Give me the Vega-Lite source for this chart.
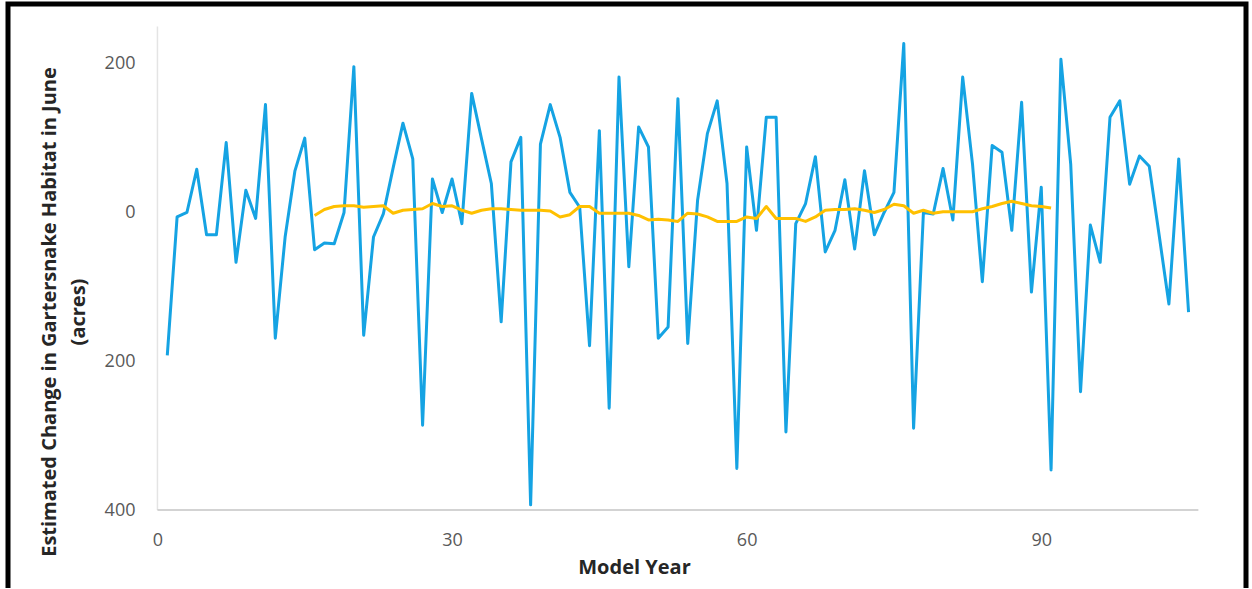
{
  "$schema": "https://vega.github.io/schema/vega-lite/v6.json",
  "width": 1238,
  "height": 590,
  "autosize": {"type": "none"},
  "padding": {"left": 8, "top": 4, "right": 6, "bottom": -6},
  "background": "white",
  "config": {"view": {"stroke": "black", "strokeWidth": 5}, "font": "Open Sans"},
  "datasets": {
    "blue": [
      {"year": 1, "value": -192}, {"year": 2, "value": -6}, {"year": 3, "value": 0}, {"year": 4, "value": 58},
      {"year": 5, "value": -30}, {"year": 6, "value": -30}, {"year": 7, "value": 94}, {"year": 8, "value": -67},
      {"year": 9, "value": 30}, {"year": 10, "value": -8}, {"year": 11, "value": 145}, {"year": 12, "value": -169},
      {"year": 13, "value": -33}, {"year": 14, "value": 56}, {"year": 15, "value": 100}, {"year": 16, "value": -50},
      {"year": 17, "value": -41}, {"year": 18, "value": -42}, {"year": 19, "value": 0}, {"year": 20, "value": 196},
      {"year": 21, "value": -165}, {"year": 22, "value": -33}, {"year": 23, "value": -2}, {"year": 24, "value": 60},
      {"year": 25, "value": 120}, {"year": 26, "value": 72}, {"year": 27, "value": -286}, {"year": 28, "value": 45},
      {"year": 29, "value": 0}, {"year": 30, "value": 45}, {"year": 31, "value": -15}, {"year": 32, "value": 160},
      {"year": 33, "value": 99}, {"year": 34, "value": 39}, {"year": 35, "value": -147}, {"year": 36, "value": 68},
      {"year": 37, "value": 101}, {"year": 38, "value": -393}, {"year": 39, "value": 92}, {"year": 40, "value": 145},
      {"year": 41, "value": 101}, {"year": 42, "value": 27}, {"year": 43, "value": 7}, {"year": 44, "value": -179},
      {"year": 45, "value": 110}, {"year": 46, "value": -263}, {"year": 47, "value": 182}, {"year": 48, "value": -73},
      {"year": 49, "value": 115}, {"year": 50, "value": 88}, {"year": 51, "value": -169}, {"year": 52, "value": -154},
      {"year": 53, "value": 153}, {"year": 54, "value": -176}, {"year": 55, "value": 16}, {"year": 56, "value": 106},
      {"year": 57, "value": 150}, {"year": 58, "value": 39}, {"year": 59, "value": -344}, {"year": 60, "value": 88},
      {"year": 61, "value": -24}, {"year": 62, "value": 128}, {"year": 63, "value": 128}, {"year": 64, "value": -295},
      {"year": 65, "value": -15}, {"year": 66, "value": 12}, {"year": 67, "value": 75}, {"year": 68, "value": -53},
      {"year": 69, "value": -24}, {"year": 70, "value": 44}, {"year": 71, "value": -49}, {"year": 72, "value": 56},
      {"year": 73, "value": -30}, {"year": 74, "value": 0}, {"year": 75, "value": 27}, {"year": 76, "value": 227},
      {"year": 77, "value": -290}, {"year": 78, "value": 0}, {"year": 79, "value": -2}, {"year": 80, "value": 59},
      {"year": 81, "value": -10}, {"year": 82, "value": 182}, {"year": 83, "value": 65}, {"year": 84, "value": -93},
      {"year": 85, "value": 90}, {"year": 86, "value": 81}, {"year": 87, "value": -24}, {"year": 88, "value": 148},
      {"year": 89, "value": -107}, {"year": 90, "value": 34}, {"year": 91, "value": -346}, {"year": 92, "value": 206},
      {"year": 93, "value": 65}, {"year": 94, "value": -241}, {"year": 95, "value": -17}, {"year": 96, "value": -67},
      {"year": 97, "value": 128}, {"year": 98, "value": 150}, {"year": 99, "value": 38}, {"year": 100, "value": 76},
      {"year": 101, "value": 62}, {"year": 102, "value": -30}, {"year": 103, "value": -123}, {"year": 104, "value": 72},
      {"year": 105, "value": -134}
    ],
    "orange": [
      {"year": 16, "value": -4}, {"year": 17, "value": 4}, {"year": 18, "value": 8}, {"year": 19, "value": 9},
      {"year": 20, "value": 9}, {"year": 21, "value": 7}, {"year": 22, "value": 8}, {"year": 23, "value": 9},
      {"year": 24, "value": -1}, {"year": 25, "value": 3}, {"year": 26, "value": 4}, {"year": 27, "value": 5},
      {"year": 28, "value": 12}, {"year": 29, "value": 8}, {"year": 30, "value": 9}, {"year": 31, "value": 3},
      {"year": 32, "value": -1}, {"year": 33, "value": 3}, {"year": 34, "value": 5}, {"year": 35, "value": 5},
      {"year": 36, "value": 4}, {"year": 37, "value": 3}, {"year": 38, "value": 3}, {"year": 39, "value": 3},
      {"year": 40, "value": 2}, {"year": 41, "value": -6}, {"year": 42, "value": -3}, {"year": 43, "value": 8},
      {"year": 44, "value": 8}, {"year": 45, "value": -1}, {"year": 46, "value": -1}, {"year": 47, "value": -1},
      {"year": 48, "value": -1}, {"year": 49, "value": -4}, {"year": 50, "value": -10}, {"year": 51, "value": -9},
      {"year": 52, "value": -10}, {"year": 53, "value": -12}, {"year": 54, "value": -1}, {"year": 55, "value": -2},
      {"year": 56, "value": -6}, {"year": 57, "value": -12}, {"year": 58, "value": -12}, {"year": 59, "value": -12},
      {"year": 60, "value": -6}, {"year": 61, "value": -8}, {"year": 62, "value": 8}, {"year": 63, "value": -8},
      {"year": 64, "value": -8}, {"year": 65, "value": -8}, {"year": 66, "value": -12}, {"year": 67, "value": -6},
      {"year": 68, "value": 3}, {"year": 69, "value": 4}, {"year": 70, "value": 4}, {"year": 71, "value": 5},
      {"year": 72, "value": 3}, {"year": 73, "value": 0}, {"year": 74, "value": 4}, {"year": 75, "value": 11},
      {"year": 76, "value": 9}, {"year": 77, "value": -1}, {"year": 78, "value": 3}, {"year": 79, "value": -1},
      {"year": 80, "value": 1}, {"year": 81, "value": 1}, {"year": 82, "value": 1}, {"year": 83, "value": 1},
      {"year": 84, "value": 5}, {"year": 85, "value": 8}, {"year": 86, "value": 12}, {"year": 87, "value": 15},
      {"year": 88, "value": 12}, {"year": 89, "value": 9}, {"year": 90, "value": 8}, {"year": 91, "value": 6}
    ]
  },
  "layer": [
    {
      "data": {"values": [{}]},
      "mark": {"type": "rule", "color": "#e4e4e4", "strokeWidth": 1.5},
      "encoding": {
        "x": {"datum": 0, "type": "quantitative"},
        "y": {"datum": -400, "type": "quantitative"},
        "y2": {"datum": 250}
      }
    },
    {
      "data": {"values": [{}]},
      "mark": {"type": "rule", "color": "#c4c4c4", "strokeWidth": 1.5},
      "encoding": {
        "x": {"datum": 0, "type": "quantitative"},
        "x2": {"datum": 106},
        "y": {"datum": -400, "type": "quantitative"}
      }
    },
    {
      "data": {"name": "blue"},
      "mark": {"type": "line", "color": "#15a3e3", "strokeWidth": 3, "strokeJoin": "round"},
      "encoding": {
        "x": {
          "field": "year", "type": "quantitative",
          "scale": {"domain": [-15.22, 110.85], "nice": false, "zero": false},
          "axis": {
            "values": [0, 30, 60, 90], "domain": false, "ticks": false, "grid": false,
            "offset": -83.5, "labelFontSize": 18, "labelColor": "#595959", "labelPadding": 21,
            "labelFlush": false, "labelOverlap": false,
            "title": "Model Year", "titleFontSize": 20, "titleFontWeight": "bold", "titleColor": "#262626",
            "titleX": 626, "titleY": 62.5, "titleBaseline": "alphabetic", "titleAlign": "center"
          }
        },
        "y": {
          "field": "value", "type": "quantitative",
          "scale": {"domain": [-512.8, 280.2], "nice": false, "zero": false},
          "axis": {
            "values": [-400, -200, 0, 200], "domain": false, "ticks": false, "grid": false,
            "offset": -149, "labelExpr": "format(abs(datum.value), 'd')",
            "labelFontSize": 18, "labelColor": "#595959", "labelPadding": 22,
            "labelFlush": false, "labelOverlap": false,
            "title": ["Estimated Change in Gartersnake Habitat in June", "(acres)"],
            "titleFontSize": 20, "titleFontWeight": "bold", "titleColor": "#262626",
            "titleX": -102, "titleY": 307.5, "titleBaseline": "alphabetic", "titleAlign": "center",
            "titleAngle": -90, "titleLineHeight": 29
          }
        }
      }
    },
    {
      "data": {"name": "orange"},
      "mark": {"type": "line", "color": "#ffc000", "strokeWidth": 3, "strokeJoin": "round"},
      "encoding": {
        "x": {"field": "year", "type": "quantitative"},
        "y": {"field": "value", "type": "quantitative"}
      }
    }
  ]
}
